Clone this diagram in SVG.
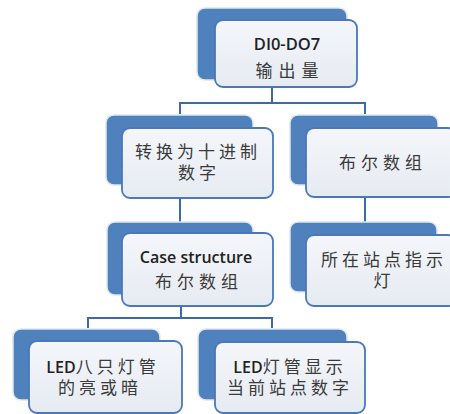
<svg xmlns="http://www.w3.org/2000/svg" width="450" height="414" viewBox="0 0 450 414">
<defs>
<linearGradient id="fg" x1="0" y1="0" x2="0" y2="1">
<stop offset="0" stop-color="#f4f6fa"/>
<stop offset="1" stop-color="#e6ebf2"/>
</linearGradient>
</defs>
<style>
.back{fill:#4f81bd;stroke:#dfe6f0;stroke-width:1.5}
.front{fill:url(#fg);stroke:#4a78b8;stroke-width:1.8}
.conn{fill:none;stroke:#3c6aa8;stroke-width:2}
.t{font-family:"Open Sans","Noto Sans CJK SC",sans-serif;font-size:17px;fill:#3a3a3a;text-anchor:middle}
.c{letter-spacing:4px}
.b{font-weight:600;fill:#222;font-size:16px}
</style>
<rect width="450" height="414" fill="#ffffff"/>
<g id="connectors">
<path class="conn" d="M272 87 V103 M180 114 V103 H365 V114"/>
<path class="conn" d="M180 198 V222"/>
<path class="conn" d="M365 197 V222"/>
<path class="conn" d="M181 306 V318 M88 328 V318 H272 V328"/>
</g>
<g id="n1">
<rect class="back" x="197" y="8" width="150" height="72" rx="8"/>
<rect class="front" x="215" y="20" width="142" height="67" rx="8"/>
<text class="t b" x="287" y="50" style="font-size:16.5px">DI0-DO7</text>
<text class="t" x="290" y="77" style="letter-spacing:6px">输出量</text>
</g>
<g id="n2">
<rect class="back" x="106" y="115" width="147" height="70" rx="8"/>
<rect class="front" x="122" y="128" width="151" height="70" rx="8"/>
<text class="t c" x="198" y="158">转换为十进制</text>
<text class="t c" x="199" y="179">数字</text>
</g>
<g id="n3">
<rect class="back" x="290" y="115" width="148" height="70" rx="8"/>
<rect class="front" x="306" y="128" width="150" height="69" rx="8"/>
<text class="t" x="383" y="169" style="letter-spacing:5px">布尔数组</text>
</g>
<g id="n4">
<rect class="back" x="107" y="222" width="146" height="73" rx="8"/>
<rect class="front" x="122" y="233" width="151" height="73" rx="8"/>
<text class="t b" x="196" y="263">Case structure</text>
<text class="t" x="199" y="288" style="letter-spacing:5px">布尔数组</text>
</g>
<g id="n5">
<rect class="back" x="290" y="222" width="147" height="70" rx="8"/>
<rect class="front" x="306" y="235" width="150" height="71" rx="8"/>
<text class="t c" x="384" y="266">所在站点指示</text>
<text class="t c" x="384" y="287">灯</text>
</g>
<g id="n6">
<rect class="back" x="13" y="329" width="147" height="71" rx="8"/>
<rect class="front" x="29" y="341" width="153" height="72" rx="8"/>
<text class="t c" x="103" y="373"><tspan class="b" style="letter-spacing:0">LED</tspan>八只灯管</text>
<text class="t c" x="100" y="394">的亮或暗</text>
</g>
<g id="n7">
<rect class="back" x="198" y="329" width="149" height="71" rx="8"/>
<rect class="front" x="215" y="342" width="150" height="71" rx="8"/>
<text class="t c" x="290" y="373"><tspan class="b" style="letter-spacing:0">LED</tspan>灯管显示</text>
<text class="t c" x="290" y="394">当前站点数字</text>
</g>
</svg>
